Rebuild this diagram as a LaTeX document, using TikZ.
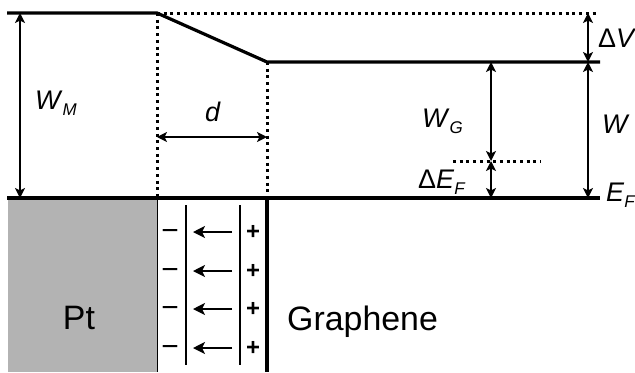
\documentclass[tikz,border=0pt]{standalone}
\usepackage{fontspec}
\setmainfont{Liberation Sans}
\usepackage{tikz}
\usetikzlibrary{arrows.meta, positioning, calc}
\definecolor{ptgray}{RGB}{179,179,179}
\tikzstyle{level} = [line width=3.2bp]
\tikzstyle{guide} = [line width=3bp, dash pattern=on 3bp off 3.7bp]
\tikzstyle{dim} = [line width=2bp, {Stealth[length=10bp,width=10bp,inset=2.5bp]}-{Stealth[length=10bp,width=10bp,inset=2.5bp]}]
\tikzstyle{field} = [line width=2bp, -{Stealth[length=12bp,width=12bp,inset=3bp]}]
\tikzstyle{lbl} = [inner sep=0pt, font=\fontsize{27}{30}\selectfont]
\tikzstyle{big} = [inner sep=0pt, font=\fontsize{34}{38}\selectfont]
\tikzstyle{minus} = [inner sep=0pt, yshift=-3bp, font=\fontsize{30}{30}\selectfont]
\tikzstyle{plus} = [inner sep=0pt, font=\bfseries\fontsize{24}{24}\selectfont]
\newcommand{\lvlsub}[2]{\textit{#1}\raisebox{-6bp}{\fontsize{17}{17}\selectfont\textit{#2}}}

\begin{document}
\begin{tikzpicture}[x=1bp, y=-1bp]
\useasboundingbox (0,0) rectangle (635,372);

% Levels
\coordinate (mtop) at (7,13);
\coordinate (mend) at (157,13);
\coordinate (gstart) at (267,62);
\coordinate (gend) at (600,62);
\coordinate (vacend) at (598,13);
\coordinate (fleft) at (7,198);
\coordinate (fright) at (600,198);
\coordinate (mbot) at (157,198);
\coordinate (gbot) at (267,198);

% Pt block
\fill[ptgray] (8,198) rectangle (157,372);
\draw[line width=1bp] (mbot) -- (157,372);
\node[big, anchor=base] (pt) at (79,329) {Pt};

% Energy levels
\draw[level] (mtop) -- (mend) -- (gstart) -- (gend);
\draw[level] (fleft) -- (fright);
\draw[guide] (mend) -- (vacend);
\draw[guide] (mend) -- (mbot);
\draw[guide] (gstart) -- (gbot);
\draw[guide] (453,161) coordinate (dfl) -- (541,161) coordinate (dfr);

% Graphene sheet
\draw[line width=4bp] (gbot) -- (267,372);
\node[big, anchor=base west] (gr) at (287,330) {Graphene};

% Dipole layer
\draw[line width=2.6bp] (186,205) -- (186,365);
\draw[line width=2.6bp] (240,205) -- (240,365);
\foreach \y in {232,271,309,348} {
  \node[minus] at (170,\y) {−};
  \node[plus] at (253,\y) {+};
  \draw[field] (232,\y) -- (193,\y);
}

% Dimension arrows
\draw[dim] (20,13) -- (20,198);
\draw[dim] (157,137) -- (267,137);
\draw[dim] (491,62) -- (491,161);
\draw[dim] (491,161) -- (491,198);
\draw[dim] (588,13) -- (588,62);
\draw[dim] (588,62) -- (588,198);

% Labels
\node[lbl, anchor=base west] (wm) at (35,109) {\lvlsub{W}{M}};
\node[lbl, anchor=base] (dl) at (213,121) {\textit{d}};
\node[lbl, anchor=base west] (wg) at (422,127) {\lvlsub{W}{G}};
\node[lbl, anchor=base west] (def) at (418,188) {Δ\lvlsub{E}{F}};
\node[lbl, anchor=base west] (dv) at (598,47) {Δ\textit{V}};
\node[lbl, anchor=base west] (w) at (602,133) {\textit{W}};
\node[lbl, anchor=base west] (ef) at (606,201) {\lvlsub{E}{F}};

\end{tikzpicture}
\end{document}
